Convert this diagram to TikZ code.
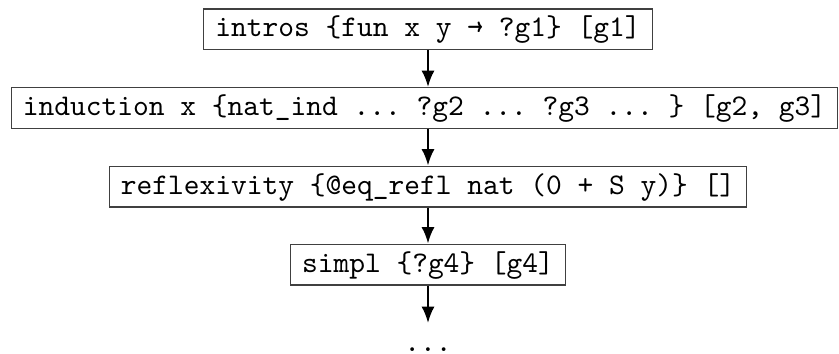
\documentclass[tikz,border=0pt]{standalone}
\usepackage{fontspec}
\usetikzlibrary{arrows.meta}
\begin{document}
\begin{tikzpicture}[x=1pt,y=1pt,
  stepbox/.style={draw=black!75, line width=0.4pt, font=\ttfamily\fontsize{10}{12}\selectfont\frenchspacing,
    inner xsep=3.9pt, inner ysep=1.8pt, text height=7.5pt, text depth=2.5pt},
  plain/.style={font=\ttfamily\fontsize{10}{12}\selectfont\frenchspacing,
    inner xsep=3.9pt, inner ysep=1.8pt, text height=7.5pt, text depth=2.5pt},
  conn/.style={line width=0.75pt, -{Latex[length=5.5pt,width=4.4pt]}}]
\useasboundingbox (0,0) rectangle (279.67,-118);
\node[stepbox] (b1) at (142.67,-9.83) {intros \{fun x y → ?g1\} [g1]};
\node[stepbox] (b2) at (141.5,-36) {induction x \{nat\_ind ... ?g2 ... ?g3 ... \} [g2, g3]};
\node[stepbox] (b3) at (142.67,-62.17) {reflexivity \{@eq\_refl nat (0 + S y)\} []};
\node[stepbox] (b4) at (142.67,-88.17) {simpl \{?g4\} [g4]};
\node[plain] (b5) at (142.67,-114.67) {...};
\draw[conn] (b1.south) -- (b1.south |- b2.north);
\draw[conn] (b1.south |- b2.south) -- (b3.north);
\draw[conn] (b3.south) -- (b4.north);
\draw[conn] (b4.south) -- (b5.north);
\end{tikzpicture}
\end{document}
